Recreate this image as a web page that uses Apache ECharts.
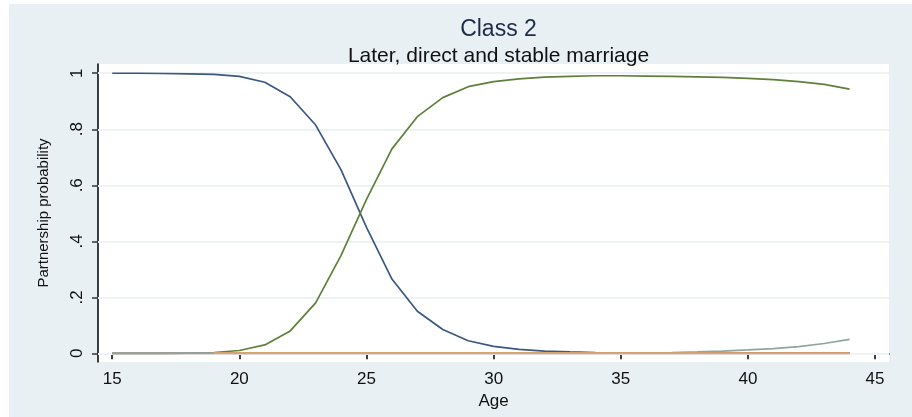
<!DOCTYPE html>
<html>
<head>
<meta charset="utf-8">
<script src="https://cdn.jsdelivr.net/npm/echarts@6/dist/echarts.min.js"></script>
<style>
  html, body { margin: 0; padding: 0; background: #ffffff; }
  #chart { position: absolute; left: 9px; top: 4px; width: 903px; height: 413px; }
</style>
</head>
<body>
<div id="chart"></div>
<script>
// ages 15..44
const ages = [15,16,17,18,19,20,21,22,23,24,25,26,27,28,29,30,31,32,33,34,35,36,37,38,39,40,41,42,43,44];

const single = [1.000,1.000,0.999,0.998,0.996,0.989,0.968,0.916,0.815,0.655,0.450,0.265,0.150,0.085,0.045,0.025,0.014,0.008,0.005,0.003,0.002,0.002,0.002,0.002,0.002,0.002,0.002,0.002,0.002,0.002];
const married = [0.000,0.000,0.000,0.001,0.003,0.010,0.030,0.080,0.180,0.350,0.550,0.730,0.845,0.913,0.952,0.970,0.980,0.986,0.989,0.991,0.991,0.990,0.989,0.987,0.985,0.982,0.977,0.970,0.960,0.943];
// cohabitation only starts to show from age 19
const cohabiting = [null,null,null,null,0.001,0.001,0.001,0.001,0.001,0.001,0.001,0.001,0.001,0.001,0.001,0.001,0.001,0.001,0.001,0.001,0.001,0.001,0.001,0.001,0.001,0.001,0.001,0.001,0.001,0.001];
const divorced = [0,0,0,0,0,0,0,0,0,0,0,0,0,0,0,0,0,0,0,0,0,0,0,0,0,0,0,0,0,0];
const separated = [0.001,0.001,0.001,0.001,0.001,0.001,0.001,0.001,0.001,0.001,0.001,0.001,0.001,0.001,0.001,0.001,0.001,0.001,0.001,0.001,0.001,0.002,0.003,0.005,0.008,0.012,0.017,0.024,0.035,0.050];

const yTicks = [0, 0.2, 0.4, 0.6, 0.8, 1];
const yTickLabels = ['0', '.2', '.4', '.6', '.8', '1'];
const xTicks = [15, 20, 25, 30, 35, 40, 45];

function pairs(vals) {
    return ages.map((a, i) => [a, vals[i]]);
}

function lineSeries(name, vals, color, width, z) {
    return {
        name: name,
        type: 'line',
        data: pairs(vals),
        symbol: 'none',
        z: z,
        lineStyle: { color: color, width: width },
        itemStyle: { color: color }
    };
}

const chart = echarts.init(document.getElementById('chart'));

const font = 'Liberation Sans, Arial, sans-serif';
const plotCenter = 89 + (903 - 89 - 23) / 2;

const option = {
    backgroundColor: '#e8f0f3',
    animation: false,
    title: [
        {
            text: 'Class 2',
            left: plotCenter,
            textAlign: 'center',
            top: 9,
            textStyle: { fontFamily: font, fontSize: 23, fontWeight: 'normal', color: '#1c2b4a' }
        },
        {
            text: 'Later, direct and stable marriage',
            left: plotCenter,
            textAlign: 'center',
            top: 37,
            textStyle: { fontFamily: font, fontSize: 21, fontWeight: 'normal', color: '#111111' }
        }
    ],
    grid: {
        left: 89,
        top: 60,
        right: 23,
        bottom: 55,
        show: true,
        backgroundColor: '#ffffff',
        borderWidth: 0
    },
    xAxis: {
        type: 'value',
        min: 14.44,
        max: 45.55,
        name: 'Age',
        nameLocation: 'middle',
        nameGap: 19,
        nameTextStyle: { fontFamily: font, fontSize: 17, color: '#111111' },
        axisLine: { show: true, lineStyle: { color: '#000000', width: 1.5 } },
        axisTick: { show: true, customValues: xTicks, length: 6, lineStyle: { color: '#000000', width: 1.5 } },
        axisLabel: {
            customValues: xTicks,
            margin: 9,
            fontFamily: font,
            fontSize: 17,
            color: '#111111'
        },
        splitLine: { show: false }
    },
    yAxis: {
        type: 'value',
        min: -0.031,
        max: 1.033,
        name: 'Partnership probability',
        nameLocation: 'middle',
        nameGap: 47,
        nameRotate: 90,
        nameTextStyle: { fontFamily: font, fontSize: 15, color: '#111111' },
        axisLine: { show: true, lineStyle: { color: '#000000', width: 1.5 } },
        axisTick: { show: true, customValues: yTicks, length: 6, lineStyle: { color: '#333333', width: 1.5 } },
        axisLabel: {
            customValues: yTicks,
            rotate: 90,
            margin: 12,
            fontFamily: font,
            fontSize: 17,
            color: '#111111',
            formatter: function (v) {
                const i = yTicks.findIndex(t => Math.abs(t - v) < 1e-6);
                return i >= 0 ? yTickLabels[i] : '';
            }
        },
        splitLine: { show: false }
    },
    series: [
        {
            type: 'line',
            data: [],
            silent: true,
            z: 1,
            markLine: {
                silent: true,
                z: 1,
                symbol: 'none',
                label: { show: false },
                lineStyle: { color: '#edf2f4', width: 2, type: 'solid' },
                data: yTicks.map(t => ({ yAxis: t }))
            }
        },
        lineSeries('Single', single, '#3a5883', 1.7, 3),
        lineSeries('Married', married, '#5f803a', 1.7, 4),
        lineSeries('Divorced', divorced, '#b98a8e', 2, 5),
        lineSeries('Separated', separated, '#8ea69f', 1.7, 6),
        lineSeries('Cohabiting', cohabiting, '#e6a462', 1.8, 7)
    ]
};

chart.setOption(option);

window.addEventListener('resize', function () {
    chart.resize();
});
</script>
</body>
</html>
